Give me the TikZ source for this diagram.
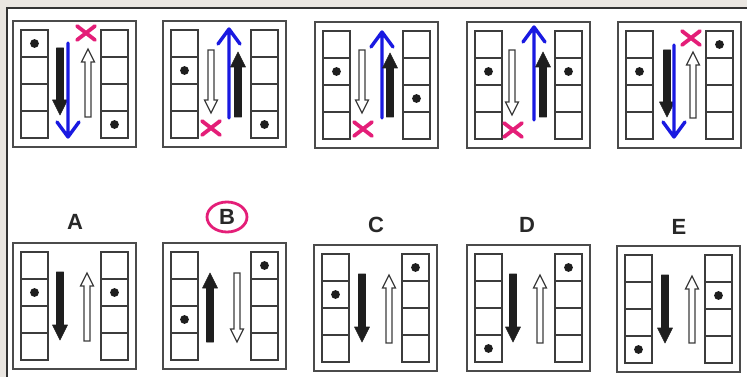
\documentclass[tikz,border=0pt]{standalone}
\usepackage{fontspec}
\setmainfont{Liberation Sans}
\usetikzlibrary{shapes.geometric}
\definecolor{bgbeige}{RGB}{234,230,225}
\definecolor{pinkx}{RGB}{228,30,120}
\definecolor{blueline}{RGB}{25,25,225}
\definecolor{framegray}{RGB}{75,75,75}
\definecolor{cellgray}{RGB}{60,60,60}
\definecolor{arrowblack}{RGB}{30,30,30}
\definecolor{labelgray}{RGB}{40,40,40}
\tikzset{
  boxframe/.style={draw=framegray, line width=2pt},
  cellline/.style={draw=cellgray, line width=1.4pt},
  blkarrow/.style={fill=arrowblack, draw=arrowblack, line width=0.6pt, line join=round},
  whtarrow/.style={fill=white, draw=cellgray, line width=1.2pt, line join=miter},
  bluearrow/.style={draw=blueline, line width=3.4pt, line cap=round, line join=round},
  pinkcross/.style={draw=pinkx, line width=3.8pt, line cap=round},
  dotblack/.style={fill=arrowblack},
  lab/.style={text=labelgray, font=\fontsize{22}{22}\selectfont\bfseries, inner sep=0pt},
}
\newcommand\blkdn[3]{\filldraw[blkarrow] (#1-3.5,#2) -- (#1+3.5,#2) -- (#1+3.5,#3-15) -- (#1+7.5,#3-15) -- (#1,#3) -- (#1-7.5,#3-15) -- (#1-3.5,#3-15) -- cycle;}
\newcommand\blkup[3]{\filldraw[blkarrow] (#1-3.5,#2) -- (#1+3.5,#2) -- (#1+3.5,#3+15) -- (#1+7.5,#3+15) -- (#1,#3) -- (#1-7.5,#3+15) -- (#1-3.5,#3+15) -- cycle;}
\newcommand\whtdn[3]{\filldraw[whtarrow] (#1-3,#2) -- (#1+3,#2) -- (#1+3,#3-13) -- (#1+6.5,#3-13) -- (#1,#3) -- (#1-6.5,#3-13) -- (#1-3,#3-13) -- cycle;}
\newcommand\whtup[3]{\filldraw[whtarrow] (#1-3,#2) -- (#1+3,#2) -- (#1+3,#3+13) -- (#1+6.5,#3+13) -- (#1,#3) -- (#1-6.5,#3+13) -- (#1-3,#3+13) -- cycle;}
\newcommand\bluedn[3]{\draw[bluearrow] (#1,#2) -- (#1,#3) (#1-11,#3-15) -- (#1,#3) -- (#1+11,#3-15);}
\newcommand\blueup[3]{\draw[bluearrow] (#1,#2) -- (#1,#3) (#1-11,#3+15) -- (#1,#3) -- (#1+11,#3+15);}
\newcommand\crossmark[2]{\draw[pinkcross] (#1-9,#2-7) -- (#1+9,#2+7) (#1-9,#2+7) -- (#1+9,#2-7);}
\newcommand\puzbox[2]{%
  \draw[boxframe] (#1,#2) rectangle (#1+123,#2+126);
  \foreach \cx in {8,88}{\foreach \k in {0,1,2,3}{\draw[cellline] (#1+\cx,#2+9+27*\k) rectangle ++(27,27);}}}
% L, T, column (0 left / 1 right), cell (1..4)
\newcommand\dotat[4]{\fill[dotblack] ({#1+21.5+80*#3},{#2+22.5+27*(#4-1)}) circle (4.4pt);}
\begin{document}
\begin{tikzpicture}[x=1pt, y=-1pt]
\useasboundingbox (0,0) rectangle (747,377);
\fill[bgbeige] (0,0) rectangle (747,377);
\fill[white] (7,8) rectangle (747,377);
\draw[line width=1.5pt, draw=black!80] (7,377) -- (7,8) -- (747,8);

% ---- top row ----
\puzbox{13}{21}
\dotat{13}{21}{0}{1}\dotat{13}{21}{1}{4}
\blkdn{60}{48}{115}
\bluedn{68}{43}{137}
\whtup{88}{117}{49}
\crossmark{86}{33}

\puzbox{163}{21}
\dotat{163}{21}{0}{2}\dotat{163}{21}{1}{4}
\whtdn{211}{50}{113}
\blueup{229}{118}{29}
\blkup{238}{117}{52}
\crossmark{211}{128}

\puzbox{315}{22}
\dotat{315}{22}{0}{2}\dotat{315}{22}{1}{3}
\whtdn{362}{50}{113}
\blueup{382}{118}{32}
\blkup{390}{117}{53}
\crossmark{363}{129}

\puzbox{467}{22}
\dotat{467}{22}{0}{2}\dotat{467}{22}{1}{2}
\whtdn{512}{50}{115}
\blueup{534}{120}{27}
\blkup{543}{117}{52}
\crossmark{513}{130}

\puzbox{618}{22}
\dotat{618}{22}{0}{2}\dotat{618}{22}{1}{1}
\blkdn{667}{50}{117}
\bluedn{674}{45}{137}
\whtup{693}{118}{52}
\crossmark{691}{38}

% ---- labels ----
\node[lab] (labA) at (75,222) {A};
\node[lab, draw=pinkx, line width=2.8pt, ellipse, minimum width=40pt, minimum height=30pt] (labB) at (227,217) {B};
\node[lab] (labC) at (376,225) {C};
\node[lab] (labD) at (527,225) {D};
\node[lab] (labE) at (679,227) {E};

% ---- bottom row ----
\puzbox{13}{243}
\dotat{13}{243}{0}{2}\dotat{13}{243}{1}{2}
\blkdn{60}{272}{340}
\whtup{87}{341}{273}

\puzbox{163}{243}
\dotat{163}{243}{0}{3}\dotat{163}{243}{1}{1}
\blkup{210}{342}{273}
\whtdn{237}{273}{342}

\puzbox{314}{245}
\dotat{314}{245}{0}{2}\dotat{314}{245}{1}{1}
\blkdn{362}{274}{342}
\whtup{389}{343}{275}

\puzbox{467}{245}
\dotat{467}{245}{0}{4}\dotat{467}{245}{1}{1}
\blkdn{513}{274}{342}
\whtup{540}{343}{275}

\puzbox{617}{246}
\dotat{617}{246}{0}{4}\dotat{617}{246}{1}{2}
\blkdn{665}{275}{343}
\whtup{692}{343}{276}
\end{tikzpicture}
\end{document}
